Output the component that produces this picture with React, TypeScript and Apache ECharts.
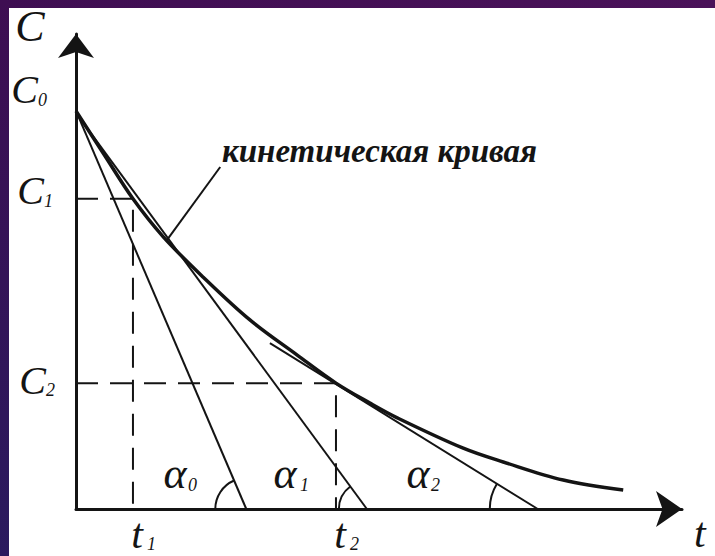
import React, { useEffect, useRef } from "react";
import * as echarts from "echarts";

// Kinetic curve C(t), read as (time, concentration) pairs
const curveTime = [0, 4.5, 9.4, 14.4, 21.0, 28.7, 36.5, 42.9, 48.5, 53.0, 63.9, 70.5, 80.4, 90.3];
const curveConc = [83.8, 74.9, 65.3, 57.3, 48.8, 39.8, 32.4, 26.5, 22.3, 19.2, 12.8, 9.9, 6.1, 4.0];

// Concentration levels marked on the C axis: C0, C1, C2
const levelIndex = ["0", "1", "2"];
const levelConc = [83.8, 65.3, 26.5];

// Moments marked on the t axis: t1, t2 (paired with C1, C2)
const momentIndex = ["1", "2"];
const momentTime = [9.4, 42.9];

// Tangent lines α0, α1, α2: upper end and crossing with the t axis
const tangentIndex = ["0", "1", "2"];
const tangentFromTime = [0, 0.5, 32.0];
const tangentFromConc = [83.8, 82.5, 34.9];
const tangentCrossTime = [28.1, 48.0, 76.2];

// Leader from the curve to its caption
const leaderTime = [15.0, 23.8];
const leaderConc = [56.6, 72.0];
const captionText = "кинетическая кривая";

const INK = "#141414";
const SERIF = '"Liberation Serif", "Times New Roman", serif';
const ARC_RADII = [31, 28, 48];

function label(
  x: number,
  y: number,
  text: string,
  fontSize: number,
  align: string = "left",
  fontWeight: string = "normal"
) {
  return {
    type: "text",
    x,
    y,
    silent: true,
    z: 10,
    style: {
      text,
      fontSize,
      fontStyle: "italic",
      fontWeight,
      fontFamily: SERIF,
      fill: INK,
      align,
      verticalAlign: "middle",
    },
  };
}

function buildOption() {
  const axisCommon = {
    type: "value",
    min: 0,
    max: 100,
    axisTick: { show: false },
    axisLabel: { show: false },
    splitLine: { show: false },
  };

  const series: any[] = [];

  series.push({
    type: "line",
    name: "curve",
    data: curveTime.map((t, i) => [t, curveConc[i]]),
    smooth: 0.35,
    showSymbol: false,
    symbol: "none",
    silent: true,
    lineStyle: { color: INK, width: 3.5 },
    z: 5,
  });

  // dashed guides C1–t1 and C2–t2
  momentTime.forEach((t, i) => {
    const c = levelConc[i + 1];
    series.push({
      type: "line",
      data: [
        [0, c],
        [t, c],
        [t, 0],
      ],
      showSymbol: false,
      symbol: "none",
      silent: true,
      lineStyle: { color: INK, width: 2, type: [22, 12] },
      z: 3,
    });
  });

  tangentIndex.forEach((_, i) => {
    series.push({
      type: "line",
      data: [
        [tangentFromTime[i], tangentFromConc[i]],
        [tangentCrossTime[i], 0],
      ],
      showSymbol: false,
      symbol: "none",
      silent: true,
      lineStyle: { color: INK, width: 2 },
      z: 4,
    });
  });

  series.push({
    type: "line",
    data: leaderTime.map((t, i) => [t, leaderConc[i]]),
    showSymbol: false,
    symbol: "none",
    silent: true,
    lineStyle: { color: INK, width: 2 },
    z: 4,
  });

  // angle arcs between each tangent and the t axis
  series.push({
    type: "custom",
    silent: true,
    clip: false,
    data: tangentIndex.map((_, i) => [
      tangentCrossTime[i],
      0,
      tangentFromTime[i],
      tangentFromConc[i],
    ]),
    encode: { x: 0, y: 1 },
    renderItem: (params: any, api: any) => {
      const i = params.dataIndex;
      const cross = api.coord([api.value(0), api.value(1)]);
      const from = api.coord([api.value(2), api.value(3)]);
      const ang = Math.atan2(from[1] - cross[1], from[0] - cross[0]) + Math.PI * 2;
      return {
        type: "arc",
        shape: {
          cx: cross[0],
          cy: cross[1],
          r: ARC_RADII[i],
          startAngle: Math.PI,
          endAngle: ang,
          clockwise: true,
        },
        style: { stroke: INK, fill: "none", lineWidth: 2 },
      };
    },
    z: 4,
  });

  return {
    animation: false,
    backgroundColor: "#ffffff",
    grid: { left: 76, top: 34, width: 606, height: 475, containLabel: false },
    xAxis: {
      ...axisCommon,
      axisLine: {
        show: true,
        onZero: false,
        symbol: ["none", "arrow"],
        symbolSize: [27, 26],
        lineStyle: { color: INK, width: 3 },
      },
    },
    yAxis: {
      ...axisCommon,
      axisLine: {
        show: true,
        onZero: false,
        symbol: ["none", "arrow"],
        symbolSize: [27, 24],
        lineStyle: { color: INK, width: 3 },
      },
    },
    series,
  };
}

export default function App() {
  const ref = useRef<HTMLDivElement>(null);

  useEffect(() => {
    if (!ref.current) return;
    const chart = echarts.init(ref.current, null, { renderer: "svg" });
    chart.setOption(buildOption());

    const px = (x: number, y: number) =>
      chart.convertToPixel({ gridIndex: 0 }, [x, y]) as number[];

    const graphics: any[] = [];

    // frame
    graphics.push({
      type: "rect",
      silent: true,
      z: 20,
      shape: { x: 0, y: 0, width: 715, height: 8 },
      style: {
        fill: new echarts.graphic.LinearGradient(0, 0, 1, 0, [
          { offset: 0, color: "#3e0e52" },
          { offset: 1, color: "#4a1259" },
        ]),
      },
    });
    graphics.push({
      type: "rect",
      silent: true,
      z: 20,
      shape: { x: 0, y: 0, width: 9, height: 556 },
      style: {
        fill: new echarts.graphic.LinearGradient(0, 0, 0, 1, [
          { offset: 0, color: "#3e0e52" },
          { offset: 1, color: "#2a1a5e" },
        ]),
      },
    });

    // axis titles
    graphics.push(label(30, 26, "C", 44, "center"));
    graphics.push(label(694, 533, "t", 42, "left"));

    // C0, C1, C2
    const levelDx = [-38, -32, -30];
    const levelDy = [-21, -8, -3];
    levelIndex.forEach((s, i) => {
      const p = px(0, levelConc[i]);
      const x = p[0] + levelDx[i];
      const y = p[1] + levelDy[i];
      graphics.push(label(x, y, "C", 40, "right"));
      graphics.push(label(x, y + 10, s, 18, "left"));
    });

    // t1, t2
    momentIndex.forEach((s, i) => {
      const p = px(momentTime[i], 0);
      graphics.push(label(p[0] + 4, p[1] + 25, "t", 42, "center"));
      graphics.push(label(p[0] + 14, p[1] + 35, s, 18, "left"));
    });

    // α0, α1, α2
    const alphaAt = [
      [175, 473],
      [285, 473],
      [418, 473],
    ];
    const alphaSubX = [188, 300, 431];
    tangentIndex.forEach((s, i) => {
      graphics.push(label(alphaAt[i][0], alphaAt[i][1], "α", 44, "center"));
      graphics.push(label(alphaSubX[i], 485, s, 18, "left"));
    });

    // caption of the curve
    graphics.push(label(222, 151, captionText, 33, "left", "bold"));

    chart.setOption({ graphic: graphics });

    return () => chart.dispose();
  }, []);

  return (
    <div
      ref={ref}
      style={{ position: "fixed", left: 0, top: 0, width: 715, height: 556 }}
    />
  );
}
